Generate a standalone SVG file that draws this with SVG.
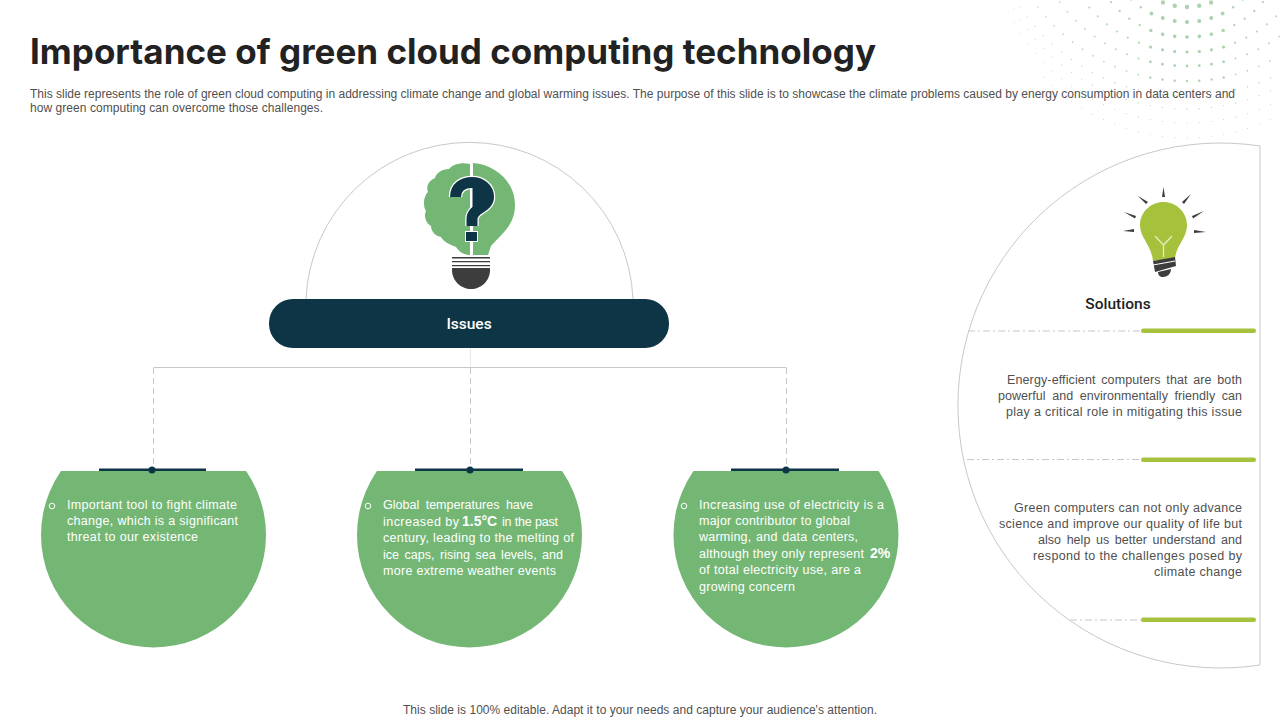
<svg xmlns="http://www.w3.org/2000/svg" width="1280" height="720" viewBox="0 0 1280 720">
<style>
text{font-family:"Liberation Sans",Arial,sans-serif;font-size:12px;fill:#505050}
.t{font-size:12.500px}
.w{fill:#fff;font-size:12.500px}
.b{font-weight:bold;font-size:14px;fill:#fff}
.hd{font-family:Roboto,"Liberation Sans",sans-serif;font-weight:500;font-size:15.500px}
.g{fill:#74B775}
.nv{fill:#0D3545}
.dk{fill:#3d3d3d}
.ln{fill:none;stroke:#c8c8c8;stroke-width:1}
.da{fill:none;stroke:#c8c8c8;stroke-width:1;stroke-dasharray:6 4}
.bar{fill:#A6C23C}
.dots path{fill:none;stroke:url(#fade);stroke-linecap:round;stroke-dasharray:0 12.3}
.bul{fill:none;stroke:#fff;stroke-width:1}
</style>
<defs>
<radialGradient id="fade" gradientUnits="userSpaceOnUse" cx="1187" cy="30" r="240">
<stop offset="0" stop-color="#a6cfa9"/><stop offset=".55" stop-color="#c4dfc6"/><stop offset=".85" stop-color="#e4f0e4"/><stop offset="1" stop-color="#fff"/>
</radialGradient>
<clipPath id="cap"><rect x="0" y="471" width="1000" height="200"/></clipPath>
</defs>
<rect width="1280" height="720" fill="#fff"/>
<g class="dots" id="dots">
<path stroke-width="2.600" d="M1187 22A80 80 0 0 1 1129 -3M1187 22A80 80 0 0 0 1245 -3"/>
<path stroke-width="2.400" d="M1187 37A100 100 0 0 1 1107 -3M1187 37A100 100 0 0 0 1267 -3"/>
<path stroke-width="2.200" d="M1187 52A130 130 0 0 1 1081 -3M1187 52A130 130 0 0 0 1293 -3"/>
<path stroke-width="2" d="M1187 66A158 158 0 0 1 1056 -3M1187 66A158 158 0 0 0 1318 -3"/>
<path stroke-width="1.800" d="M1187 81A186 186 0 0 1 1031 -3M1187 81A186 186 0 0 0 1342 -3"/>
<path stroke-width="1.500" d="M1187 96A200 200 0 0 1 1014 -3M1187 96A200 200 0 0 0 1360 -3"/>
<path stroke-width="1.300" d="M1187 109A200 200 0 0 1 1011 4M1187 109A200 200 0 0 0 1363 4"/>
<path stroke-width="1.200" d="M1187 123A200 200 0 0 1 1007 10M1187 123A200 200 0 0 0 1367 10"/>
<path stroke-width="1.100" d="M1187 138A200 200 0 0 1 1037 70M1187 138A200 200 0 0 0 1337 70"/>
<path stroke-width="4.400" d="M1187 7A70 70 0 0 1 1147 -6M1187 7A70 70 0 0 0 1227 -6"/>
<path stroke-width="4" d="M1187 22A80 80 0 0 1 1147 11M1187 22A80 80 0 0 0 1227 11"/>
<path stroke-width="3.600" d="M1187 37A100 100 0 0 1 1147 29M1187 37A100 100 0 0 0 1227 29"/>
<path stroke-width="3.200" d="M1187 52A130 130 0 0 1 1147 46M1187 52A130 130 0 0 0 1227 46"/>
<path stroke-width="2.800" d="M1187 66A158 158 0 0 1 1147 61M1187 66A158 158 0 0 0 1227 61"/>
<path stroke-width="2.400" d="M1187 81A186 186 0 0 1 1147 77M1187 81A186 186 0 0 0 1227 77"/>
</g>
<g id="header">
<text x="30" y="64" textLength="846" lengthAdjust="spacing" style="font-family:Inter,'Liberation Sans',sans-serif;font-weight:700;font-size:35px;fill:#222">Importance of green cloud computing technology</text>
<text x="30" y="98" textLength="1205">This slide represents the role of green cloud computing in addressing climate change and global warming issues. The purpose of this slide is to showcase the climate problems caused by energy consumption in data centers and</text>
<text x="30" y="112" textLength="293">how green computing can overcome those challenges.</text>
</g>
<g id="connectors">
<path class="ln" d="M153.5 367.5H786.5"/>
<path class="ln" style="stroke:#e8e8e8" d="M470.5 348V367"/>
<path class="da" d="M153.5 368V466M470.5 368V466M786.5 368V466"/>
<path class="da" style="stroke-dasharray:7 3 2 3" d="M968 331H1141M967 459.5H1141M1070 620H1141"/>
</g>
<g id="issues-arc"><path class="ln" d="M306 299A163.65 163.65 0 0 1 633 299"/></g>
<g id="issues-icon">
<path class="g" d="M473 163C497 165 515 183 515 205C515 226 500 235 491 246L488 255H473Z"/>
<path class="g" d="M470 164C462 162 453 164 449 169C442 169 436 173 435 178C428 181 426 187 428 192C423 197 423 206 426 211C423 217 427 224 431 226C431 232 436 236 441 237C444 243 452 245 456 247C460 253 465 255 470 255Z"/>
<path fill="none" stroke="#fff" stroke-width="13.500" d="M455.500 197C455.500 187 463 182.500 472 182.500C481 182.500 488.500 188 488.500 197C488.500 208 472 208 472 219V226"/>
<rect x="465" y="231" width="13" height="11" fill="#fff"/>
<path fill="none" stroke="#0D3545" stroke-width="11" d="M455.500 197C455.500 187 463 182.500 472 182.500C481 182.500 488.500 188 488.500 197C488.500 208 472 208 472 219V226"/>
<path class="nv" d="M472.500 188H484V205L472.500 212Z"/>
<rect x="466" y="232" width="11" height="9" class="nv"/>
<path class="dk" d="M452 257H490V258.500H452ZM452 261H490V262.300H452ZM452 265H490V266.300H452Z"/>
<path class="dk" d="M452 268H490V270C490 281 481 289 471 289C461 289 452 281 452 270Z"/>
</g>
<g id="issues">
<rect x="269" y="299" width="400" height="49" rx="24" class="nv"/>
<text x="469" y="329" text-anchor="middle" class="hd" style="fill:#fff">Issues</text>
</g>
<g id="issue-1">
<circle cx="153.500" cy="535" r="112.500" class="g" clip-path="url(#cap)"/>
<rect x="99" y="468.500" width="107" height="2.500" class="nv"/>
<circle cx="152" cy="470" r="3.500" class="nv"/>
<circle cx="52" cy="506" r="2.800" class="bul"/>
<text class="w" x="67" y="509" textLength="170">Important tool to fight climate</text>
<text class="w" x="67" y="525" textLength="171">change, which is a significant</text>
<text class="w" x="67" y="541" textLength="131">threat to our existence</text>
</g>
<g id="issue-2">
<circle cx="469.500" cy="535" r="112.500" class="g" clip-path="url(#cap)"/>
<rect x="415" y="468.500" width="108" height="2.500" class="nv"/>
<circle cx="470" cy="470" r="3.500" class="nv"/>
<circle cx="368" cy="506" r="2.800" class="bul"/>
<text class="w" x="383" y="509" textLength="150" style="word-spacing:3px">Global temperatures have</text>
<text class="w" x="383" y="526" textLength="76">increased by</text>
<text class="b" x="462" y="526">1.5°C</text>
<text class="w" x="502" y="526" textLength="56">in the past</text>
<text class="w" x="383" y="542" textLength="191">century, leading to the melting of</text>
<text class="w" x="383" y="559" textLength="180" style="word-spacing:2px">ice caps, rising sea levels, and</text>
<text class="w" x="383" y="575" textLength="173">more extreme weather events</text>
</g>
<g id="issue-3">
<circle cx="786" cy="535" r="112.500" class="g" clip-path="url(#cap)"/>
<rect x="731" y="468.500" width="108" height="2.500" class="nv"/>
<circle cx="786" cy="470" r="3.500" class="nv"/>
<circle cx="684" cy="506" r="2.800" class="bul"/>
<text class="w" x="699" y="509" textLength="185">Increasing use of electricity is a</text>
<text class="w" x="699" y="525" textLength="151">major contributor to global</text>
<text class="w" x="699" y="541" textLength="159" style="word-spacing:1px">warming, and data centers,</text>
<text class="w" x="699" y="558" textLength="165">although they only represent</text>
<text class="b" x="870" y="558">2%</text>
<text class="w" x="699" y="574" textLength="162">of total electricity use, are a</text>
<text class="w" x="699" y="591" textLength="96">growing concern</text>
</g>
<g id="solutions">
<path class="ln" d="M1260 146A262.500 262.500 0 1 0 1260 665Z"/>
<g id="solutions-icon">
<path class="bar" d="M1163.500 202C1176 202 1187 212 1187 225C1187 238 1177 244 1175 258L1153 261C1151 244 1140 238 1140 225C1140 212 1151 202 1163.500 202Z"/>
<path fill="none" stroke="#e4efc0" stroke-width="1.300" d="M1155 236L1163.500 245L1172 236M1163.500 245V257"/>
<path class="dk" d="M1153 261L1175 257L1176 266L1155 272ZM1158 272L1171 269C1171 274 1167 277 1163 277C1160 277 1158 275 1158 272Z"/>
<path stroke="#fff" stroke-width="1" d="M1153 265L1175 261"/>
<path class="dk" d="M1163.500 187L1165 197H1162ZM1138 196L1148 202L1146 204ZM1191 194L1184 204L1182 202ZM1124 212L1136 216L1135 218.500ZM1204 211L1193 218.500L1192 216ZM1123 231L1134 229V232ZM1206 232L1194 233V230Z"/>
</g>
<text x="1118" y="309" text-anchor="middle" class="hd" style="fill:#222">Solutions</text>
<rect x="1141" y="328.500" width="115" height="4.500" rx="2.200" class="bar"/>
<rect x="1141" y="457.500" width="115" height="4.500" rx="2.200" class="bar"/>
<rect x="1141" y="617.500" width="115" height="4.500" rx="2.200" class="bar"/>
<text class="t" x="1007" y="384" textLength="235" style="word-spacing:2px">Energy-efficient computers that are both</text>
<text class="t" x="998" y="400" textLength="244" style="word-spacing:3px">powerful and environmentally friendly can</text>
<text class="t" x="1006" y="416" textLength="236">play a critical role in mitigating this issue</text>
<text class="t" x="1014" y="512" textLength="228">Green computers can not only advance</text>
<text class="t" x="999" y="528" textLength="243">science and improve our quality of life but</text>
<text class="t" x="1038" y="544" textLength="204" style="word-spacing:2px">also help us better understand and</text>
<text class="t" x="1033" y="560" textLength="209">respond to the challenges posed by</text>
<text class="t" x="1154" y="576" textLength="88">climate change</text>
</g>
<g id="footer"><text x="403" y="714" textLength="474">This slide is 100% editable. Adapt it to your needs and capture your audience's attention.</text></g>
</svg>
